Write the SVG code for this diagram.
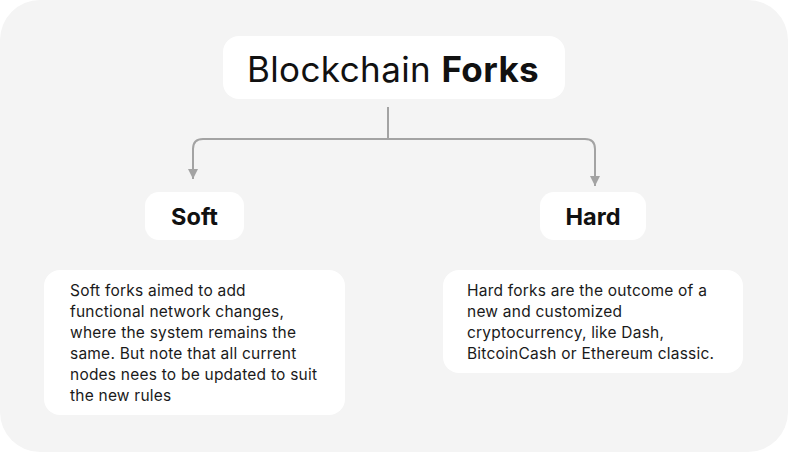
<svg xmlns="http://www.w3.org/2000/svg" width="788" height="452" viewBox="0 0 788 452">
<style>
.box{fill:#ffffff}
.lbl{font-family:Inter,"Liberation Sans",sans-serif;fill:#111111}
.desc{font-family:Inter,"Liberation Sans",sans-serif;font-size:15.5px;letter-spacing:0.22px;fill:#1a1a1a}
.conn{fill:none;stroke:#a3a3a3;stroke-width:2}
</style>
<defs>
<marker id="arr" viewBox="0 0 10 10" refX="10" refY="5" markerWidth="10" markerHeight="10" markerUnits="userSpaceOnUse" orient="auto">
<path d="M0,0 L10,5 L0,10 Z" fill="#a3a3a3"/>
</marker>
</defs>
<rect x="0" y="0" width="788" height="452" fill="#ffffff"/>
<rect x="0" y="0" width="788" height="452" rx="40" ry="40" fill="#f4f4f4"/>
<g id="connectors">
<path class="conn" d="M388,107 V139"/>
<path class="conn" d="M388,139 H203 Q193,139 193,149 V179" marker-end="url(#arr)"/>
<path class="conn" d="M388,139 H585 Q595,139 595,149 V186" marker-end="url(#arr)"/>
</g>
<g id="title">
<rect class="box" x="223" y="36" width="342" height="63" rx="16"/>
<text class="lbl" x="393" y="82" text-anchor="middle" font-size="35" letter-spacing="0.4">Blockchain <tspan font-weight="bold">Forks</tspan></text>
</g>
<g id="soft">
<rect class="box" x="145" y="192" width="99" height="48" rx="14"/>
<text class="lbl" x="194.5" y="225" text-anchor="middle" font-size="23.5" font-weight="bold">Soft</text>
</g>
<g id="hard">
<rect class="box" x="540" y="192" width="106" height="48" rx="14"/>
<text class="lbl" x="593" y="225" text-anchor="middle" font-size="23.5" font-weight="bold">Hard</text>
</g>
<g id="soft-desc">
<rect class="box" x="44" y="270" width="301" height="145" rx="16"/>
<text class="desc">
<tspan x="70" y="296">Soft forks aimed to add</tspan>
<tspan x="70" y="317">functional network changes,</tspan>
<tspan x="70" y="338">where the system remains the</tspan>
<tspan x="70" y="359">same. But note that all current</tspan>
<tspan x="70" y="380">nodes nees to be updated to suit</tspan>
<tspan x="70" y="401">the new rules</tspan>
</text>
</g>
<g id="hard-desc">
<rect class="box" x="443" y="270" width="300" height="103" rx="16"/>
<text class="desc">
<tspan x="467" y="296">Hard forks are the outcome of a</tspan>
<tspan x="467" y="317">new and customized</tspan>
<tspan x="467" y="338">cryptocurrency, like Dash,</tspan>
<tspan x="467" y="359">BitcoinCash or Ethereum classic.</tspan>
</text>
</g>
</svg>
